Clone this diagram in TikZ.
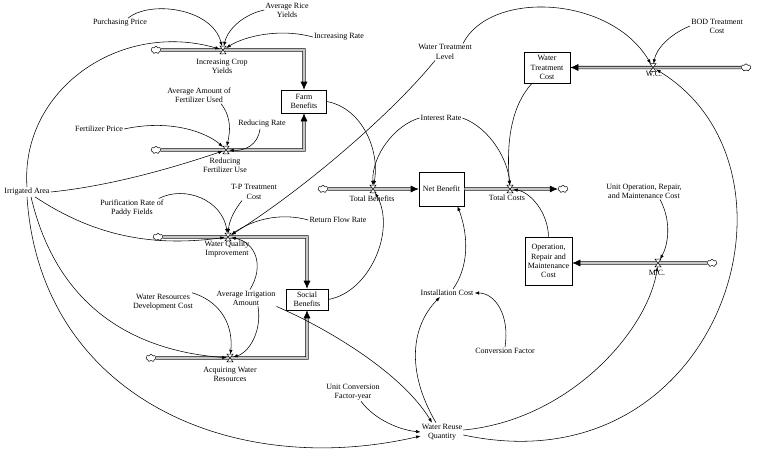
\documentclass[tikz,border=0pt]{standalone}
\usepackage{fontspec}
\setmainfont{Liberation Serif}
\usetikzlibrary{arrows.meta,shapes.symbols,calc}
\begin{document}
\begin{tikzpicture}[x=1pt,y=-1pt,
 lbl/.style={font=\fontsize{8}{9.2}\selectfont, align=center, inner sep=1pt},
 stock/.style={draw, line width=0.6pt, fill=white, font=\fontsize{8}{9.2}\selectfont, align=center, inner sep=1pt},
 valvept/.style={inner sep=0pt, minimum width=6pt, minimum height=7pt},
 cloudnode/.style={cloud, cloud puffs=7, aspect=1.4, draw, fill=white, inner sep=0pt, minimum width=10pt, minimum height=7.5pt, line width=0.5pt},
 pipe/.style={draw=black, line width=0.6pt, double=gray!45, double distance=2pt, line join=miter},
 pipetip/.style={-{Latex[length=8pt,width=7pt]}},
 link/.style={line width=0.55pt, -{Latex[length=4.5pt,width=3.4pt]}},
 hg/.pic={\draw[fill=white,line width=0.5pt] (-3,-3.8) -- (3,-3.8) -- (-3,3.8) -- (3,3.8) -- cycle;}
]
\useasboundingbox (0,0) rectangle (757,448);

% ---- text / auxiliary nodes
\node[lbl] (pp) at (120,23) {Purchasing Price};
\node[lbl] (ary) at (287,10) {Average Rice\\Yields};
\node[lbl] (ir) at (339,37) {Increasing Rate};
\node[lbl] (v1l) at (222,66) {Increasing Crop\\Yields};
\node[lbl] (aaf) at (199,95) {Average Amount of\\Fertilizer Used};
\node[lbl] (rr) at (262,124) {Reducing Rate};
\node[lbl] (fp) at (99,129) {Fertilizer Price};
\node[lbl] (v2l) at (225,165) {Reducing\\Fertilizer Use};
\node[lbl] (ia) at (27,192) {Irrigated Area};
\node[lbl] (tp) at (254,192) {T-P Treatment\\Cost};
\node[lbl] (pr) at (132,208) {Purification Rate of\\Paddy Fields};
\node[lbl] (rfr) at (338,220) {Return Flow Rate};
\node[lbl] (v3l) at (227,249) {Water Quality\\Improvement};
\node[lbl] (aia) at (246,298) {Average Irrigation\\Amount};
\node[lbl] (wrd) at (163,302) {Water Resources\\Development Cost};
\node[lbl] (v4l) at (230,374) {Acquiring Water\\Resources};
\node[lbl] (ucf) at (353,392) {Unit Conversion\\Factor-year};
\node[lbl] (wtl) at (445,52) {Water Treatment\\Level};
\node[lbl] (wcl) at (654,74) {W.C.};
\node[lbl] (bod) at (717,26) {BOD Treatment\\Cost};
\node[lbl] (intr) at (441,118) {Interest Rate};
\node[lbl] (tbl) at (372,199) {Total Benefits};
\node[lbl] (tcl) at (507,198) {Total Costs};
\node[lbl] (uom) at (644,191) {Unit Operation, Repair,\\and Maintenance Cost};
\node[lbl] (mcl) at (657,273) {M.C.};
\node[lbl] (ic) at (447,293) {Installation Cost};
\node[lbl] (cf) at (505,351) {Conversion Factor};
\node[lbl] (wrq) at (442,432) {Water Reuse\\Quantity};

% ---- stocks
\node[stock, minimum width=45pt, minimum height=23pt] (fb) at (304,101.5) {Farm\\Benefits};
\node[stock, minimum width=42pt, minimum height=21pt] (sb) at (307,299.5) {Social\\Benefits};
\node[stock, minimum width=46pt, minimum height=31pt] (wtc) at (547,67.5) {Water\\Treatment\\Cost};
\node[stock, minimum width=45pt, minimum height=34pt] (nb) at (441.5,189) {Net Benefit};
\node[stock, minimum width=47pt, minimum height=48pt] (om) at (548.5,261) {Operation,\\Repair and\\Maintenance\\Cost};

% ---- valves (anchors)
\node[valvept] (v1) at (223,50) {};
\node[valvept] (v2) at (226,150) {};
\node[valvept] (v3) at (228,237) {};
\node[valvept] (v4) at (230,358) {};
\node[valvept] (vtb) at (373,189) {};
\node[valvept] (vtc) at (510,189) {};
\node[valvept] (vwc) at (653,67.5) {};
\node[valvept] (vmc) at (658,263) {};

% ---- corners
\coordinate (k1) at (304,50);
\coordinate (k2) at (304,150);
\coordinate (k3) at (307,237);
\coordinate (k4) at (307,358);

% ---- clouds
\node[cloudnode] (c1) at (156,50) {};
\node[cloudnode] (c2) at (156,150) {};
\node[cloudnode] (c3) at (158,237) {};
\node[cloudnode] (c4) at (151,358) {};
\node[cloudnode] (ctb) at (323,189) {};
\node[cloudnode] (ctc) at (563,189) {};
\node[cloudnode] (cwc) at (746,67.5) {};
\node[cloudnode] (cmc) at (712,263) {};

% ---- pipes
\draw[pipe,pipetip] (c1.east) -- (k1) -- (fb.north);
\draw[pipe,pipetip] (c2.east) -- (k2) -- (fb.south);
\draw[pipe,pipetip] (c3.east) -- (k3) -- (sb.north);
\draw[pipe,pipetip] (c4.east) -- (k4) -- (sb.south);
\draw[pipe,pipetip] (ctb.east) -- (nb.west);
\draw[pipe,pipetip] (nb.east) -- (ctc.west);
\draw[pipe,pipetip] (cwc.west) -- (wtc.east |- vwc);
\draw[pipe,pipetip] (cmc.west) -- (om.east |- vmc);

\foreach \v in {v1,v2,v3,v4,vtb,vtc,vwc,vmc} \pic at (\v) {hg};

% ---- causal links
\draw[link] ([xshift=8pt]pp.north) .. controls (150,0) and (212,8) .. (v1);
\draw[link] (ary.west) .. controls (245,14) and (228,28) .. (v1);
\draw[link] (ir.west) .. controls (280,28) and (245,36) .. (v1);
\draw[link] (ia.north) .. controls (20,90) and (120,20) .. (v1);
\draw[link] (fp.east) .. controls (175,118) and (210,135) .. (v2);
\draw[link] ([xshift=22pt]aaf.south) .. controls (232,118) and (230,132) .. (v2);
\draw[link] ([xshift=-2pt]rr.south) .. controls (258,145) and (245,151) .. (v2);
\draw[link] (ia.east) .. controls (120,185) and (190,162) .. (v2);
\draw[link] (fb.east) .. controls (362,108) and (380,150) .. (vtb);
\draw[link] ([xshift=-10pt]wtl.south) .. controls (395,110) and (310,185) .. (v3);
\draw[link] ([xshift=18pt]wtl.north) .. controls (490,-10) and (610,-5) .. (vwc);
\draw[link] (intr.west) .. controls (395,125) and (372,155) .. (vtb);
\draw[link] (intr.east) .. controls (490,128) and (508,160) .. (vtc);
\draw[link] ([xshift=-15pt]wtc.south) .. controls (512,105) and (506,140) .. (vtc);
\draw[link] (om.north) .. controls (548,212) and (530,192) .. (vtc);
\draw[link] ([xshift=16pt]uom.south) .. controls (672,222) and (668,245) .. (vmc);
\draw[link] (bod.west) .. controls (668,35) and (656,50) .. (vwc);
\draw[link] ([yshift=2pt]wrq.east) .. controls (570,420) and (648,330) .. (vmc);
\draw[link] ([yshift=-3pt]wrq.east) .. controls (720,490) and (820,170) .. (vwc);
\draw[link] (aia.south east) .. controls (320,325) and (400,370) .. ([xshift=-10pt]wrq.north);
\draw[link] ([xshift=-6pt]wrq.north) .. controls (405,370) and (412,325) .. ([xshift=-7pt]ic.south);
\draw[link] ([xshift=6pt]ic.north) .. controls (472,262) and (466,228) .. ([xshift=16pt]nb.south);
\draw[link] (cf.north) .. controls (510,315) and (495,293) .. (ic.east);
\draw[link] ([xshift=8pt]ucf.south) .. controls (375,420) and (400,430) .. (wrq.west);
\draw[link] (ia.south) .. controls (40,395) and (230,480) .. ([yshift=-4pt]wrq.west);
\draw[link] ([xshift=4pt]ia.south) .. controls (60,320) and (150,352) .. (v4);
\draw[link] ([xshift=8pt]ia.south) .. controls (100,240) and (160,246) .. (v3);
\draw[link] ([xshift=-6pt]pr.north east) .. controls (185,185) and (222,200) .. (v3);
\draw[link] ([xshift=-12pt]tp.south) .. controls (233,212) and (229,222) .. (v3);
\draw[link] (rfr.west) .. controls (280,212) and (252,220) .. (v3);
\draw[link] ([xshift=4pt]aia.north) .. controls (265,265) and (255,242) .. (v3);
\draw[link] ([xshift=12pt]aia.south) .. controls (262,330) and (250,352) .. (v4);
\draw[link] ([xshift=-2pt]wrd.north east) .. controls (225,303) and (233,330) .. (v4);
\draw[link] (sb.east) .. controls (370,292) and (396,230) .. (vtb);
\end{tikzpicture}
\end{document}
